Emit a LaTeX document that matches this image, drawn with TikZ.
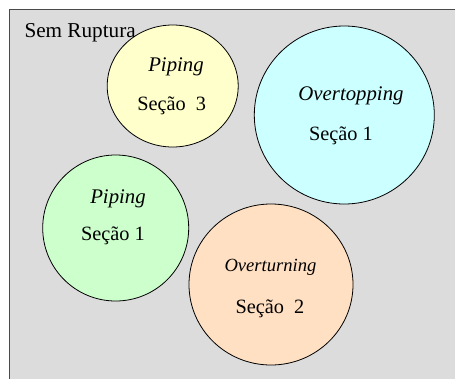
\documentclass[tikz,border=0pt]{standalone}
\usepackage{fontspec}
\setmainfont{Liberation Serif}
\usetikzlibrary{shapes.geometric}

\definecolor{panelgray}{HTML}{DCDCDC}
\definecolor{framegray}{HTML}{4A4A4A}
\definecolor{pipeyellow}{HTML}{FFFFCC}
\definecolor{topcyan}{HTML}{CCFFFF}
\definecolor{pipegreen}{HTML}{CCFFCC}
\definecolor{turnpeach}{HTML}{FFE0C2}

\tikzset{
  bubble/.style={ellipse, draw=black, line width=0.8pt, inner sep=0pt},
  lbl/.style={anchor=base, inner sep=0pt, font=\fontsize{20.3}{24}\selectfont},
  lblit/.style={lbl, font=\fontsize{20.8}{24}\selectfont\itshape},
  lblsmall/.style={lbl, font=\fontsize{18.6}{22}\selectfont\itshape}
}

\begin{document}
\begin{tikzpicture}[x=1pt, y=-1pt]
  \useasboundingbox (0,0) rectangle (455,378);
  \clip (0,0) rectangle (455,378);

  % outer panel, running off the right and bottom edges
  \draw[framegray, line width=1.1pt, fill=panelgray] (9.5,9.5) rectangle (480,400);
  \node[anchor=base west, inner sep=0pt, font=\fontsize{21.2}{24}\selectfont] (title) at (24.3,37.7) {Sem Ruptura};

  % bubbles
  \node[bubble, fill=pipeyellow, minimum width=131pt, minimum height=122pt] (p3) at (172.7,86) {};
  \node[bubble, fill=topcyan, minimum width=180pt, minimum height=178pt] (o1) at (344.3,115) {};
  \node[bubble, fill=pipegreen, minimum width=146pt, minimum height=146pt] (p1) at (115.7,228) {};
  \node[bubble, fill=turnpeach, minimum width=164pt, minimum height=161pt] (t2) at (271,284.5) {};

  % labels
  \node[lblit] (p3a) at (176,71.7) {Piping};
  \node[lbl]   (p3b) at (171.7,110) {Seção~~3};

  \node[lblit] (o1a) at (351,100) {Overtopping};
  \node[lbl]   (o1b) at (341,140) {Seção 1};

  \node[lblit] (p1a) at (118,203.3) {Piping};
  \node[lbl]   (p1b) at (113,240) {Seção 1};

  \node[lblsmall] (t2a) at (270.5,271.7) {Overturning};
  \node[lbl]      (t2b) at (270,313) {Seção~~2};
\end{tikzpicture}
\end{document}
